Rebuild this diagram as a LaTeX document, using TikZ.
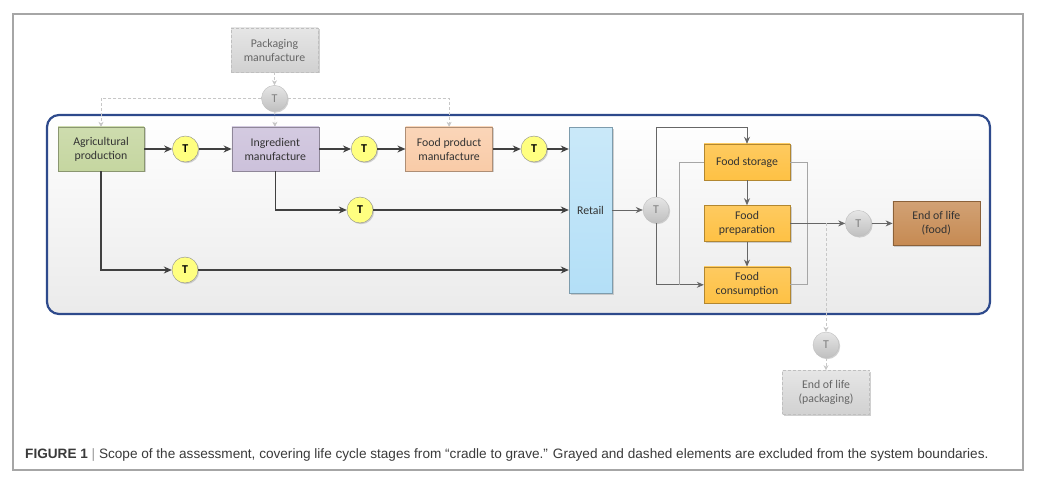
\documentclass[tikz,border=0pt]{standalone}
\usepackage{fontspec}
\setmainfont{Liberation Sans}
\newfontfamily\boxfont{Carlito}
\usetikzlibrary{shapes.geometric, arrows.meta, shadows}
\usetikzlibrary{positioning}
\usetikzlibrary{calc}
\definecolor{boundary}{HTML}{2E4A8C}
\definecolor{agrigreen}{HTML}{C5D6A0}
\definecolor{ingrpurple}{HTML}{CCC1DB}
\definecolor{prodpeach}{HTML}{F9CBA7}
\definecolor{retailblue}{HTML}{B3DFF7}
\definecolor{foodorange}{HTML}{FEC144}
\definecolor{eolbrown}{HTML}{C68A52}
\definecolor{tyellow}{HTML}{FFFF80}
\definecolor{captext}{HTML}{3A3A3A}
\tikzstyle{stage} = [rectangle, minimum width=87pt, minimum height=44pt, text centered,
align=center, draw=black!30, text=black!80, font=\boxfont\fontsize{11.8}{14}\selectfont,
drop shadow={shadow xshift=1.5pt, shadow yshift=-1.5pt, fill=black!30, opacity=0.6}]
\tikzstyle{food} = [stage, minimum width=86pt, minimum height=36pt, top color=foodorange!85,
bottom color=foodorange, draw=foodorange!70!black]
\tikzstyle{excluded} = [stage, densely dashed, draw=black!25, text=black!60, top color=black!10,
bottom color=black!18]
\tikzstyle{trans} = [circle, minimum size=26pt, inner sep=0pt, draw=black!45, fill=tyellow,
font=\boxfont\bfseries\fontsize{12}{14}\selectfont,
drop shadow={shadow xshift=1.2pt, shadow yshift=-1.2pt, fill=black!30, opacity=0.6}]
\tikzstyle{transx} = [trans, draw=black!25, fill=none, top color=black!10, bottom color=black!25,
text=black!50, font=\boxfont\fontsize{12}{14}\selectfont]
\tikzstyle{arrow} = [line width=1.2pt, draw=black!75, ->, >={Stealth[length=8pt,width=7pt]}]
\tikzstyle{thinarrow} = [line width=0.8pt, draw=black!60, ->, >={Stealth[length=7pt,width=6pt]}]
\tikzstyle{loopline} = [line width=0.7pt, draw=black!35]
\tikzstyle{exclarrow} = [line width=0.6pt, draw=black!22, densely dashed, ->,
>={Stealth[length=5pt,width=5pt]}]

\begin{document}
\begin{tikzpicture} [x=1pt, y=-1pt]
    \useasboundingbox (0,0) rectangle (1041,486);
    \fill[white] (0,0) rectangle (1041,486);
    \draw[black!35, line width=1.2pt] (13,14) rectangle (1023,470);
    % system boundary
    \draw[boundary, line width=2.2pt, rounded corners=12pt, top color=white, bottom color=black!8]
    (47,115) rectangle (990,314);

    \node (pack) [excluded] at (274.5,50) {Packaging\\manufacture};
    \node (tp) [transx, below=13pt of pack] {T};
    \node (agri) [stage, minimum width=86pt, top color=agrigreen!85, bottom color=agrigreen,
    draw=agrigreen!70!black] at (101,149) {Agricultural\\production};
    \node (t1) [trans, right=28pt of agri] {T};
    \node (ingr) [stage, top color=ingrpurple!85, bottom color=ingrpurple,
    draw=ingrpurple!70!black, right=33pt of t1] {Ingredient\\manufacture};
    \node (t2) [trans, right=32pt of ingr] {T};
    \node (prod) [stage, top color=prodpeach!80, bottom color=prodpeach,
    draw=prodpeach!70!black, right=28pt of t2] {Food product\\manufacture};
    \node (t3) [trans, right=28pt of prod] {T};
    \node (retail) [stage, minimum width=43pt, minimum height=166pt, top color=retailblue!70,
    bottom color=retailblue, draw=retailblue!70!black] at (590.5,210.5) {Retail};
    \node (t4) [trans] at (360,210) {T};
    \node (t5) [trans] at (185,270) {T};
    \node (tr) [transx] at (656,210) {T};
    \node (stor) [food] at (747,162) {Food storage};
    \node (prep) [food, below=25pt of stor] {Food\\preparation};
    \node (cons) [food, below=25pt of prep] {Food\\consumption};
    \node (tf) [transx, right=55pt of prep] {T};
    \node (eolf) [stage, top color=eolbrown!80, bottom color=eolbrown,
    draw=eolbrown!70!black, right=21pt of tf] {End of life\\(food)};
    \node (tpk) [transx] at (826,345) {T};
    \node (eolp) [excluded, below=12pt of tpk] {End of life\\(packaging)};
    \coordinate (split) at (tpk |- prep.east);

    \node (caption) [anchor=base west, text=captext, font=\fontsize{13.6}{16}\selectfont,
    inner sep=0pt] at (25,458) {\textbf{FIGURE 1} {\color{black!40}|} Scope of the assessment,
    covering life cycle stages from “cradle to grave.” Grayed and dashed elements are
    excluded from the system boundaries.};

    \draw[exclarrow] (pack) -- (tp);
    \draw[exclarrow] (tp) -- (ingr);
    \draw[exclarrow] (tp.west) -| (agri.north);
    \draw[exclarrow] (tp.east) -| (prod.north);
    \draw[arrow] (agri) -- (t1);
    \draw[arrow] (t1) -- (ingr);
    \draw[arrow] (ingr) -- (t2);
    \draw[arrow] (t2) -- (prod);
    \draw[arrow] (prod) -- (t3);
    \draw[arrow] (t3) -- (t3 -| retail.west);
    \draw[arrow] (ingr.south) |- (t4);
    \draw[arrow] (t4) -- (t4 -| retail.west);
    \draw[arrow] (agri.south) |- (t5);
    \draw[arrow] (t5) -- (t5 -| retail.west);
    \draw[thinarrow] (retail.east |- tr) -- (tr);
    \draw[thinarrow] (tr.north) |- ($(stor.north)+(0,-16)$) -- (stor.north);
    \draw[thinarrow] (tr.south) |- (cons.west);
    \draw[loopline] (stor.west) -| ($(cons.west)+(-24,0)$);
    \draw[loopline] (stor.east) -| ($(cons.east)+(17,0)$) -- (cons.east);
    \draw[thinarrow] (stor) -- (prep);
    \draw[thinarrow] (prep) -- (cons);
    \draw[thinarrow] (prep.east) -- (tf);
    \draw[thinarrow] (tf) -- (eolf);
    \draw[exclarrow] (split) -- (tpk);
    \draw[exclarrow] (tpk) -- (eolp);
\end{tikzpicture}
\end{document}
